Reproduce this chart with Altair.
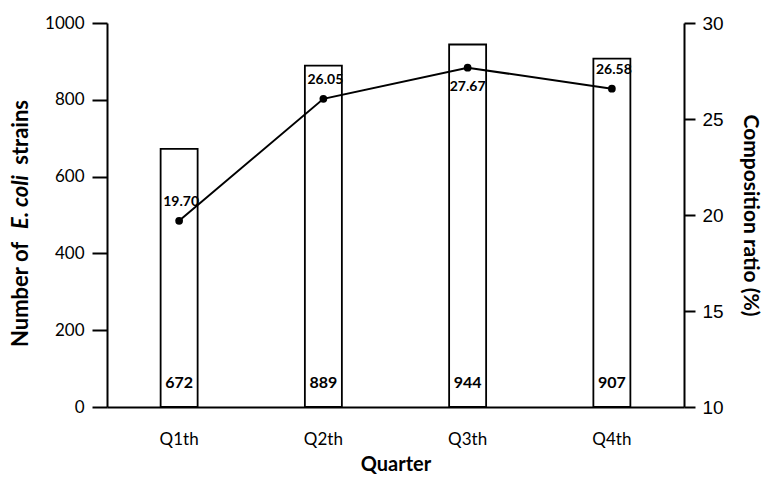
import altair as alt
import pandas as pd

quarters = ["Q1th", "Q2th", "Q3th", "Q4th"]
counts = [672, 889, 944, 907]
ratios = [19.70, 26.05, 27.67, 26.58]
ratio_labels = ["19.70", "26.05", "27.67", "26.58"]
below_label = ["Q3th"]

df = pd.DataFrame({"quarter": quarters, "count": counts, "ratio": ratios, "rlabel": ratio_labels})

LEFT_FONT = "Lato"
RIGHT_FONT = "Liberation Sans"
TITLE_SIZE = 22

x_enc = alt.X("quarter:N", sort=quarters,
              scale=alt.Scale(paddingInner=0, paddingOuter=0),
              axis=alt.Axis(title="Quarter", labelAngle=0, ticks=False, labelPadding=24,
                            titlePadding=7, labelFont=LEFT_FONT, labelFontSize=17,
                            titleFont=LEFT_FONT, titleFontSize=20, titleFontWeight="bold",
                            domainColor="black", domainWidth=2, labelColor="black",
                            titleColor="black"))

y_left = alt.Y("count:Q", scale=alt.Scale(domain=[0, 1000]),
               axis=alt.Axis(title=None, values=[0, 200, 400, 600, 800, 1000], format="d",
                             tickSize=15, tickWidth=2, tickColor="black",
                             domainColor="black", domainWidth=2, labelPadding=8,
                             labelFont=LEFT_FONT, labelFontSize=17, labelColor="black",
                             grid=False))

bars = alt.Chart(df).mark_bar(size=37, fill="white", stroke="black", strokeWidth=1.8).encode(
    x=x_enc, y=y_left)

bar_labels = alt.Chart(df).mark_text(font=LEFT_FONT, fontSize=16, fontWeight="bold",
                                     color="black", baseline="middle", dy=-24).encode(
    x=alt.X("quarter:N", sort=quarters),
    y=alt.datum(0),
    text=alt.Text("count:Q"))

# left axis title with italic "E. coli"
title_base = alt.Chart(df).transform_filter("datum.quarter=='Q1th'")
t1 = title_base.mark_text(font=LEFT_FONT, fontSize=TITLE_SIZE, fontWeight="bold", angle=270,
                          align="left", baseline="middle", color="black").encode(
    x=alt.value(-86), y=alt.value(324), text=alt.value("Number of"))
t2 = title_base.mark_text(font=LEFT_FONT, fontSize=TITLE_SIZE, fontWeight="bold",
                          fontStyle="italic", angle=270, align="center", baseline="middle",
                          color="black").encode(
    x=alt.value(-86), y=alt.value(179), text=alt.value("E. coli"))
t3 = title_base.mark_text(font=LEFT_FONT, fontSize=TITLE_SIZE, fontWeight="bold", angle=270,
                          align="right", baseline="middle", color="black").encode(
    x=alt.value(-86), y=alt.value(77), text=alt.value("strains"))

left = alt.layer(bars, bar_labels, t1, t2, t3)

y_right = alt.Y("ratio:Q", scale=alt.Scale(domain=[10, 30]),
                axis=alt.Axis(orient="right", title="Composition ratio (%)",
                              values=[10, 15, 20, 25, 30], tickSize=11, tickWidth=2,
                              tickColor="black", domainColor="black", domainWidth=2,
                              labelPadding=7, labelFont=RIGHT_FONT, labelFontSize=19,
                              labelColor="black", titleFont=LEFT_FONT, titleFontSize=21,
                              titleFontWeight="bold", titleColor="black", titlePadding=16,
                              grid=False))

line = alt.Chart(df).mark_line(color="black", strokeWidth=2).encode(
    x=alt.X("quarter:N", sort=quarters), y=y_right)
points = alt.Chart(df).mark_point(filled=True, color="black", size=60, opacity=1).encode(
    x=alt.X("quarter:N", sort=quarters), y=alt.Y("ratio:Q"))

lab_above = alt.Chart(df).transform_filter(
    alt.FieldOneOfPredicate(field="quarter", oneOf=[q for q in quarters if q not in below_label])
).mark_text(font=LEFT_FONT, fontSize=14, fontWeight="bold", color="black", dy=-19, dx=2).encode(
    x=alt.X("quarter:N", sort=quarters), y=alt.Y("ratio:Q"), text="rlabel:N")
lab_below = alt.Chart(df).transform_filter(
    alt.FieldOneOfPredicate(field="quarter", oneOf=below_label)
).mark_text(font=LEFT_FONT, fontSize=14, fontWeight="bold", color="black", dy=19).encode(
    x=alt.X("quarter:N", sort=quarters), y=alt.Y("ratio:Q"), text="rlabel:N")

right = alt.layer(line, points, lab_above, lab_below)

chart = alt.layer(left, right).resolve_scale(y="independent").properties(
    width=577, height=384,
    autosize=alt.AutoSizeParams(type="none"),
    padding={"left": 107, "top": 23, "right": 85, "bottom": 70},
    background="white",
).configure_view(stroke=None)

chart.save("out.html", embed_options={"renderer": "svg", "actions": False})
